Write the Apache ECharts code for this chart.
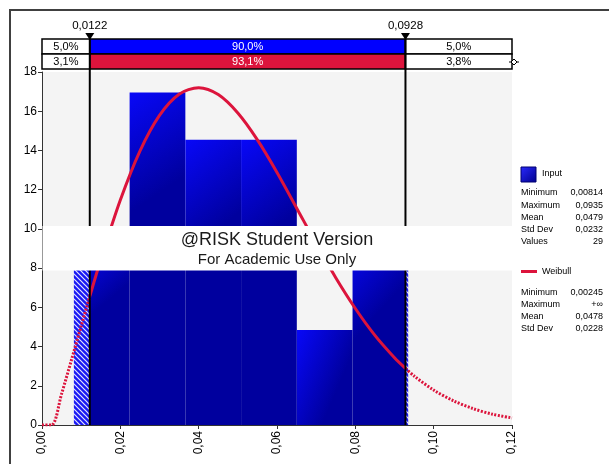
<!DOCTYPE html>
<html>
<head>
<meta charset="utf-8">
<script src="https://cdn.jsdelivr.net/npm/echarts@6/dist/echarts.min.js"></script>
<style>
  html, body { margin: 0; padding: 0; background: #ffffff; }
  #chart { width: 609px; height: 464px; }
</style>
</head>
<body>
<div id="chart"></div>
<script>
// Histogram of the input sample (density scale) and the fitted Weibull curve
const binEdges = [0.00814, 0.02237, 0.03660, 0.05083, 0.06506, 0.07929, 0.09350];
const binDensity = [9.69, 16.96, 14.54, 14.54, 4.85, 9.69];

const weibullX = [0, 0.00245, 0.005, 0.0075, 0.01, 0.0122, 0.015, 0.02, 0.025, 0.03, 0.035,
  0.04, 0.045, 0.05, 0.055, 0.06, 0.065, 0.07, 0.075, 0.08, 0.085, 0.09, 0.0928,
  0.095, 0.10, 0.105, 0.11, 0.115, 0.12];
const weibullY = [0, 0, 1.59, 3.30, 5.04, 6.56, 8.43, 11.47, 13.97, 15.79, 16.87,
  17.20, 16.85, 15.91, 14.54, 12.88, 11.07, 9.25, 7.51, 5.94, 4.57, 3.43, 2.89,
  2.50, 1.78, 1.24, 0.84, 0.55, 0.36];

// Delimiter positions and the percentages shown in the band above the plot
const delimiters = [0.0122, 0.0928];
const delimiterLabels = ['0,0122', '0,0928'];
const inputShares = ['5,0%', '90,0%', '5,0%'];
const weibullShares = ['3,1%', '93,1%', '3,8%'];

const xTicks = { min: 0, max: 0.12, interval: 0.02 };
const yTicks = { min: 0, max: 18, interval: 2 };

// Statistics panels
const inputStats = [['Minimum', '0,00814'], ['Maximum', '0,0935'], ['Mean', '0,0479'], ['Std Dev', '0,0232'], ['Values', '29']];
const weibullStats = [['Minimum', '0,00245'], ['Maximum', '+\u221e'], ['Mean', '0,0478'], ['Std Dev', '0,0228']];

const FONT = 'Liberation Sans, Arial, sans-serif';
const BLUE = '#0000ff';
const RED = '#dc143c';

// Hatch pattern for the parts of bars outside the delimiters
const hatch = document.createElement('canvas');
hatch.width = 5; hatch.height = 5;
(function () {
  const c = hatch.getContext('2d');
  c.fillStyle = '#1818f4';
  c.fillRect(0, 0, 5, 5);
  c.strokeStyle = '#e4e4ff';
  c.lineWidth = 1.2;
  c.beginPath();
  c.moveTo(0, 0); c.lineTo(5, 5);
  c.moveTo(-1, 4); c.lineTo(1, 6);
  c.moveTo(4, -1); c.lineTo(6, 1);
  c.stroke();
})();

function barGradient() {
  return new echarts.graphic.LinearGradient(0, 0, 1, 0.25, [
    { offset: 0, color: '#0808f8' },
    { offset: 1, color: '#00009e' }
  ]);
}

const binData = binDensity.map((d, i) => [binEdges[i], binEdges[i + 1], d]);

function renderBin(params, api) {
  const x0 = api.value(0), x1 = api.value(1), h = api.value(2);
  const lo = delimiters[0], hi = delimiters[1];
  const segs = [];
  if (x0 < lo) segs.push([x0, Math.min(x1, lo), true]);
  const a = Math.max(x0, lo), b = Math.min(x1, hi);
  if (b > a) segs.push([a, b, false]);
  if (x1 > hi) segs.push([Math.max(x0, hi), x1, true]);
  return {
    type: 'group',
    children: segs.map(s => {
      const p0 = api.coord([s[0], h]);
      const p1 = api.coord([s[1], 0]);
      return {
        type: 'rect',
        shape: { x: p0[0], y: p0[1], width: p1[0] - p0[0], height: p1[1] - p0[1] },
        style: { fill: s[2] ? { image: hatch, repeat: 'repeat' } : barGradient(), stroke: null }
      };
    })
  };
}

// Cells of the percentage band: three per row
const bandCells = [];
[inputShares, weibullShares].forEach((row, r) => {
  const bounds = [xTicks.min, delimiters[0], delimiters[1], xTicks.max];
  row.forEach((txt, c) => {
    bandCells.push({
      x0: bounds[c], x1: bounds[c + 1], row: r, text: txt,
      fill: c === 1 ? (r === 0 ? BLUE : RED) : '#ffffff',
      color: c === 1 ? '#ffffff' : '#000000'
    });
  });
});

function renderBand(params, api) {
  const cell = bandCells[params.dataIndex];
  const top = api.coord([0, yTicks.max])[1];
  const rowH = 15;
  const y = top - 33 + cell.row * rowH;
  const xa = api.coord([cell.x0, 0])[0];
  const xb = api.coord([cell.x1, 0])[0];
  return {
    type: 'rect',
    shape: { x: xa, y: y, width: xb - xa, height: rowH },
    style: { fill: cell.fill, stroke: '#000', lineWidth: 1.5 },
    textContent: {
      style: { text: cell.text, fill: cell.color, font: '11px ' + FONT }
    },
    textConfig: { position: 'inside' }
  };
}

function renderDelimiter(params, api) {
  const d = api.value(0);
  const bottom = api.coord([d, 0]);
  const top = api.coord([d, yTicks.max])[1] - 33;
  const x = bottom[0];
  return {
    type: 'group',
    children: [
      { type: 'line', shape: { x1: x, y1: bottom[1], x2: x, y2: top }, style: { stroke: '#000', lineWidth: 2 } },
      { type: 'polygon', shape: { points: [[x - 4.5, top - 6], [x + 4.5, top - 6], [x, top + 1]] }, style: { fill: '#000' } },
      { type: 'text', x: x, y: top - 13, style: { text: delimiterLabels[params.dataIndex], font: '11.5px ' + FONT, fill: '#000', align: 'center', verticalAlign: 'middle' } }
    ]
  };
}

const curve = weibullX.map((x, i) => [x, weibullY[i]]);
const curveLeft = curve.filter(p => p[0] <= delimiters[0]);
const curveMid = curve.filter(p => p[0] >= delimiters[0] && p[0] <= delimiters[1]);
const curveRight = curve.filter(p => p[0] >= delimiters[1]);

const dotted = { color: RED, width: 3, type: [2, 1.5] };

// Right-hand statistics panel
const panel = [];
panel.push({ type: 'rect', shape: { x: 521, y: 167, width: 15, height: 15 },
  style: { fill: new echarts.graphic.LinearGradient(0, 0, 1, 1, [{ offset: 0, color: '#2a2aff' }, { offset: 1, color: '#00008a' }]), stroke: '#000070', lineWidth: 1 } });
panel.push({ type: 'text', x: 542, y: 174, style: { text: 'Input', font: '9px ' + FONT, fill: '#000', verticalAlign: 'middle' } });
inputStats.forEach((s, i) => {
  const y = 193 + i * 12.2;
  panel.push({ type: 'text', x: 521, y: y, style: { text: s[0], font: '9px ' + FONT, fill: '#000', verticalAlign: 'middle' } });
  panel.push({ type: 'text', x: 603, y: y, style: { text: s[1], font: '9px ' + FONT, fill: '#000', align: 'right', verticalAlign: 'middle' } });
});
panel.push({ type: 'line', shape: { x1: 521, y1: 271.5, x2: 537, y2: 271.5 }, style: { stroke: RED, lineWidth: 3 } });
panel.push({ type: 'text', x: 542, y: 271.5, style: { text: 'Weibull', font: '9px ' + FONT, fill: '#000', verticalAlign: 'middle' } });
weibullStats.forEach((s, i) => {
  const y = 292.5 + i * 12;
  panel.push({ type: 'text', x: 521, y: y, style: { text: s[0], font: '9px ' + FONT, fill: '#000', verticalAlign: 'middle' } });
  panel.push({ type: 'text', x: 603, y: y, style: { text: s[1], font: '9px ' + FONT, fill: '#000', align: 'right', verticalAlign: 'middle' } });
});

const chart = echarts.init(document.getElementById('chart'), null, { renderer: 'canvas' });

chart.setOption({
  animation: false,
  backgroundColor: '#ffffff',
  grid: { left: 42, right: 97, top: 72, bottom: 39, show: true, backgroundColor: '#f4f4f4', borderWidth: 0 },
  xAxis: {
    type: 'value', min: xTicks.min, max: xTicks.max, interval: xTicks.interval,
    axisLine: { show: true, onZero: false, lineStyle: { color: '#333', width: 1 } },
    axisTick: { show: true, length: 4, lineStyle: { color: '#333' } },
    axisLabel: { rotate: 90, margin: 6, color: '#000', fontSize: 12, fontFamily: FONT,
      formatter: v => v.toFixed(2).replace('.', ',') },
    splitLine: { show: false }
  },
  yAxis: {
    type: 'value', min: yTicks.min, max: yTicks.max, interval: yTicks.interval,
    axisLine: { show: true, lineStyle: { color: '#333', width: 1 } },
    axisTick: { show: true, length: 4, lineStyle: { color: '#333' } },
    axisLabel: { margin: 5, color: '#000', fontSize: 12, fontFamily: FONT },
    splitLine: { show: false }
  },
  series: [
    { type: 'custom', name: 'Input', renderItem: renderBin, data: binData, z: 2, clip: false },
    { type: 'line', name: 'Weibull', data: curveLeft, showSymbol: false, smooth: 0.3, lineStyle: dotted, z: 3 },
    { type: 'line', name: 'Weibull', data: curveMid, showSymbol: false, smooth: 0.3, lineStyle: { color: RED, width: 3 }, z: 3 },
    { type: 'line', name: 'Weibull', data: curveRight, showSymbol: false, smooth: 0.3, lineStyle: dotted, z: 3 },
    { type: 'custom', renderItem: renderBand, data: bandCells.map(c => [c.x0, c.x1]), z: 5, clip: false },
    { type: 'custom', renderItem: renderDelimiter, data: delimiters.map(d => [d]), z: 6, clip: false }
  ],
  graphic: [
    // outer frame
    { type: 'rect', shape: { x: 10, y: 10, width: 640, height: 500 }, style: { fill: null, stroke: '#404040', lineWidth: 2 }, z: 100, silent: true },
    // watermark band
    { type: 'rect', shape: { x: 42.5, y: 226, width: 469.5, height: 44.5 }, style: { fill: '#ffffff' }, z: 100 },
    { type: 'text', x: 277, y: 240, style: { text: '@RISK Student Version', font: '18px ' + FONT, fill: '#1a1a1a', align: 'center', verticalAlign: 'middle' }, z: 101 },
    { type: 'text', x: 277, y: 259.5, style: { text: 'For Academic Use Only', font: '15px ' + FONT, fill: '#1a1a1a', align: 'center', verticalAlign: 'middle' }, z: 101 },
    // end marker beside the band
    { type: 'line', shape: { x1: 509, y1: 62, x2: 519, y2: 62 }, style: { stroke: '#000', lineWidth: 1 }, z: 101 },
    { type: 'polygon', shape: { points: [[514, 59], [517, 62], [514, 65], [511, 62]] }, style: { fill: '#fff', stroke: '#000', lineWidth: 1 }, z: 102 }
  ].concat(panel.map(p => Object.assign({ z: 101 }, p)))
});
</script>
</body>
</html>
